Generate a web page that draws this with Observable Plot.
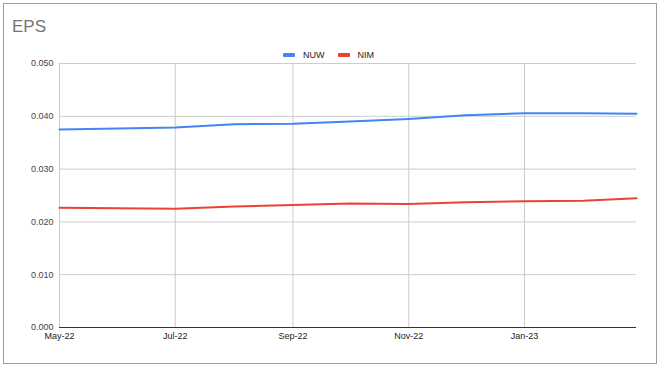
<!DOCTYPE html>
<html>
<head>
<meta charset="utf-8">
<script src="https://cdn.jsdelivr.net/npm/d3@7"></script>
<script src="https://cdn.jsdelivr.net/npm/@observablehq/plot@0.6"></script>
<style>
  html, body { margin: 0; padding: 0; background: #fff; }
  #wrap { position: relative; width: 661px; height: 371px; font-family: "Liberation Sans", Arial, sans-serif; }
  #frame { position: absolute; left: 3px; top: 3px; width: 652px; height: 359px; border: 1px solid #9e9e9e; box-sizing: content-box; }
  #title { position: absolute; left: 12px; top: 17px; font-size: 17px; color: #757575; }
  #legend { position: absolute; left: 283px; top: 50px; font-size: 9px; color: #222; display: flex; align-items: center; }
  .item { display: flex; align-items: center; margin-right: 13px; }
  .sw { width: 12px; height: 4px; margin-right: 8px; border-radius: 1px; }
  #chart { position: absolute; left: 0; top: 0; }
</style>
</head>
<body>
<div id="wrap">
  <div id="frame"></div>
  <div id="chart"></div>
  <div id="title">EPS</div>
  <div id="legend"></div>
</div>
<script>
const months = ["2022-05-01","2022-06-01","2022-07-01","2022-08-01","2022-09-01","2022-10-01","2022-11-01","2022-12-01","2023-01-01","2023-02-01","2023-03-01"];
const tickDates = ["2022-05-01","2022-07-01","2022-09-01","2022-11-01","2023-01-01"];
const tickLabels = ["May-22","Jul-22","Sep-22","Nov-22","Jan-23"];
const yTicks = [0, 0.01, 0.02, 0.03, 0.04, 0.05];
const seriesNames = ["NUW", "NIM"];
const seriesColors = ["#4285f4", "#ea4335"];
const nuw = [0.0375, 0.0377, 0.0379, 0.0385, 0.0386, 0.0390, 0.0395, 0.0402, 0.0406, 0.0406, 0.0405];
const nim = [0.0227, 0.0226, 0.0225, 0.0229, 0.0232, 0.0235, 0.0234, 0.0237, 0.0239, 0.0240, 0.0245];

const parse = d3.utcParse("%Y-%m-%d");
const rows = [];
months.forEach((m, i) => {
  rows.push({date: parse(m), value: nuw[i], series: seriesNames[0]});
  rows.push({date: parse(m), value: nim[i], series: seriesNames[1]});
});
const ticks = tickDates.map(parse);
const labelOf = new Map(ticks.map((d, i) => [+d, tickLabels[i]]));

const chart = Plot.plot({
  width: 661,
  height: 371,
  marginLeft: 59,
  marginRight: 25,
  marginTop: 63,
  marginBottom: 44,
  style: {fontFamily: "'Liberation Sans', Arial, sans-serif", fontSize: "9px", color: "#222", background: "transparent"},
  x: {type: "utc", domain: [parse(months[0]), parse(months[months.length - 1])]},
  y: {domain: [0, 0.05]},
  color: {domain: seriesNames, range: seriesColors},
  marks: [
    Plot.gridY(yTicks, {stroke: "#cccccc", strokeOpacity: 1}),
    Plot.gridX(ticks, {stroke: "#cccccc", strokeOpacity: 1}),
    Plot.ruleY([0], {stroke: "#333", strokeWidth: 1}),
    Plot.lineY(rows, {x: "date", y: "value", z: "series", stroke: "series", strokeWidth: 2}),
    Plot.axisY(yTicks, {tickSize: 0, tickPadding: 6, tickFormat: d3.format(".3f"), label: null, fill: "#444"}),
    Plot.axisX(ticks, {tickSize: 0, tickPadding: 5, tickFormat: d => labelOf.get(+d), label: null, fill: "#222"})
  ]
});
document.getElementById("chart").appendChild(chart);

const legend = document.getElementById("legend");
seriesNames.forEach((name, i) => {
  const it = document.createElement("div");
  it.className = "item";
  const sw = document.createElement("div");
  sw.className = "sw";
  sw.style.background = seriesColors[i];
  const t = document.createElement("span");
  t.textContent = name;
  it.appendChild(sw); it.appendChild(t);
  legend.appendChild(it);
});
</script>
</body>
</html>
